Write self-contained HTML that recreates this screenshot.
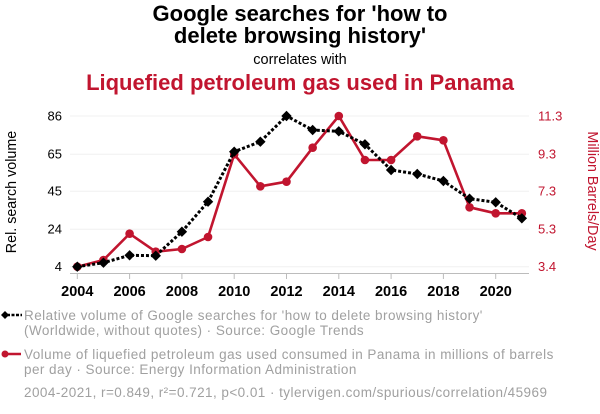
<!DOCTYPE html>
<html>
<head>
<meta charset="utf-8">
<style>
  html,body{margin:0;padding:0;background:#fff;}
  svg{display:block;}
  text{font-family:"Liberation Sans",Arial,sans-serif;}
</style>
</head>
<body>
<svg width="600" height="414" viewBox="0 0 600 414" xmlns="http://www.w3.org/2000/svg">
  <!-- Titles -->
  <text x="300" y="21" text-anchor="middle" font-size="22" font-weight="bold" fill="#000">Google searches for 'how to</text>
  <text x="300" y="43" text-anchor="middle" font-size="22" font-weight="bold" fill="#000">delete browsing history'</text>
  <text x="300" y="64" text-anchor="middle" font-size="14.5" fill="#000">correlates with</text>
  <text x="300" y="90" text-anchor="middle" font-size="22" font-weight="bold" fill="#c1152f">Liquefied petroleum gas used in Panama</text>

  <!-- Gridlines -->
  <g stroke="#f0f0f0" stroke-width="1">
    <line x1="70" y1="116" x2="529" y2="116"/>
    <line x1="70" y1="154.2" x2="529" y2="154.2"/>
    <line x1="70" y1="191.2" x2="529" y2="191.2"/>
    <line x1="70" y1="229.2" x2="529" y2="229.2"/>
    <line x1="70" y1="266.7" x2="529" y2="266.7"/>
  </g>

  <!-- X axis -->
  <line x1="70" y1="273.5" x2="529" y2="273.5" stroke="#bcbcbc" stroke-width="1"/>
  <g stroke="#bcbcbc" stroke-width="1">
    <line x1="77.3" y1="273.5" x2="77.3" y2="279"/>
    <line x1="129.6" y1="273.5" x2="129.6" y2="279"/>
    <line x1="181.9" y1="273.5" x2="181.9" y2="279"/>
    <line x1="234.2" y1="273.5" x2="234.2" y2="279"/>
    <line x1="286.5" y1="273.5" x2="286.5" y2="279"/>
    <line x1="338.8" y1="273.5" x2="338.8" y2="279"/>
    <line x1="391.1" y1="273.5" x2="391.1" y2="279"/>
    <line x1="443.4" y1="273.5" x2="443.4" y2="279"/>
    <line x1="495.7" y1="273.5" x2="495.7" y2="279"/>
  </g>
  <g font-size="14.5" font-weight="bold" fill="#000" text-anchor="middle">
    <text x="77.3" y="296">2004</text>
    <text x="129.6" y="296">2006</text>
    <text x="181.9" y="296">2008</text>
    <text x="234.2" y="296">2010</text>
    <text x="286.5" y="296">2012</text>
    <text x="338.8" y="296">2014</text>
    <text x="391.1" y="296">2016</text>
    <text x="443.4" y="296">2018</text>
    <text x="495.7" y="296">2020</text>
  </g>

  <!-- Left axis labels -->
  <g font-size="13" fill="#000" text-anchor="end">
    <text x="62" y="120.5">86</text>
    <text x="62" y="158.7">65</text>
    <text x="62" y="195.7">45</text>
    <text x="62" y="233.7">24</text>
    <text x="62" y="271.2">4</text>
  </g>
  <text transform="translate(16,192) rotate(-90)" text-anchor="middle" font-size="14.3" fill="#000">Rel. search volume</text>

  <!-- Right axis labels -->
  <g font-size="13" fill="#c1152f" text-anchor="start">
    <text x="538" y="120.5">11.3</text>
    <text x="538" y="158.7">9.3</text>
    <text x="538" y="195.7">7.3</text>
    <text x="538" y="233.7">5.3</text>
    <text x="538" y="271.2">3.4</text>
  </g>
  <text transform="translate(588,191) rotate(90)" text-anchor="middle" font-size="14.3" fill="#c1152f">Million Barrels/Day</text>

  <!-- Red series -->
  <polyline fill="none" stroke="#c1152f" stroke-width="2.6" stroke-linejoin="round"
    points="77.3,266.7 103.45,260 129.6,233.7 155.75,251.7 181.9,249 208.05,237 234.2,154.3 260.35,186.3 286.5,181.7 312.65,147.7 338.8,116 364.95,160 391.1,160 417.25,136.3 443.4,140.3 469.55,207.3 495.7,213.3 521.85,213.3"/>
  <g fill="#c1152f">
    <circle cx="77.3" cy="266.7" r="4.3"/>
    <circle cx="103.45" cy="260" r="4.3"/>
    <circle cx="129.6" cy="233.7" r="4.3"/>
    <circle cx="155.75" cy="251.7" r="4.3"/>
    <circle cx="181.9" cy="249" r="4.3"/>
    <circle cx="208.05" cy="237" r="4.3"/>
    <circle cx="234.2" cy="154.3" r="4.3"/>
    <circle cx="260.35" cy="186.3" r="4.3"/>
    <circle cx="286.5" cy="181.7" r="4.3"/>
    <circle cx="312.65" cy="147.7" r="4.3"/>
    <circle cx="338.8" cy="116" r="4.3"/>
    <circle cx="364.95" cy="160" r="4.3"/>
    <circle cx="391.1" cy="160" r="4.3"/>
    <circle cx="417.25" cy="136.3" r="4.3"/>
    <circle cx="443.4" cy="140.3" r="4.3"/>
    <circle cx="469.55" cy="207.3" r="4.3"/>
    <circle cx="495.7" cy="213.3" r="4.3"/>
    <circle cx="521.85" cy="213.3" r="4.3"/>
  </g>

  <!-- Black series -->
  <polyline fill="none" stroke="#000" stroke-width="3" stroke-dasharray="3 2"
    points="77.3,266.7 103.45,262.7 129.6,255.3 155.75,255.7 181.9,231.7 208.05,201.7 234.2,151.7 260.35,141.7 286.5,116 312.65,130 338.8,131.3 364.95,144.3 391.1,170 417.25,174 443.4,181 469.55,198.7 495.7,202.3 521.85,218.3"/>
  <g fill="#000">
    <path d="M77.3,261.5 l5.2,5.2 l-5.2,5.2 l-5.2,-5.2z"/>
    <path d="M103.45,257.5 l5.2,5.2 l-5.2,5.2 l-5.2,-5.2z"/>
    <path d="M129.6,250.1 l5.2,5.2 l-5.2,5.2 l-5.2,-5.2z"/>
    <path d="M155.75,250.5 l5.2,5.2 l-5.2,5.2 l-5.2,-5.2z"/>
    <path d="M181.9,226.5 l5.2,5.2 l-5.2,5.2 l-5.2,-5.2z"/>
    <path d="M208.05,196.5 l5.2,5.2 l-5.2,5.2 l-5.2,-5.2z"/>
    <path d="M234.2,146.5 l5.2,5.2 l-5.2,5.2 l-5.2,-5.2z"/>
    <path d="M260.35,136.5 l5.2,5.2 l-5.2,5.2 l-5.2,-5.2z"/>
    <path d="M286.5,110.8 l5.2,5.2 l-5.2,5.2 l-5.2,-5.2z"/>
    <path d="M312.65,124.8 l5.2,5.2 l-5.2,5.2 l-5.2,-5.2z"/>
    <path d="M338.8,126.1 l5.2,5.2 l-5.2,5.2 l-5.2,-5.2z"/>
    <path d="M364.95,139.1 l5.2,5.2 l-5.2,5.2 l-5.2,-5.2z"/>
    <path d="M391.1,164.8 l5.2,5.2 l-5.2,5.2 l-5.2,-5.2z"/>
    <path d="M417.25,168.8 l5.2,5.2 l-5.2,5.2 l-5.2,-5.2z"/>
    <path d="M443.4,175.8 l5.2,5.2 l-5.2,5.2 l-5.2,-5.2z"/>
    <path d="M469.55,193.5 l5.2,5.2 l-5.2,5.2 l-5.2,-5.2z"/>
    <path d="M495.7,197.1 l5.2,5.2 l-5.2,5.2 l-5.2,-5.2z"/>
    <path d="M521.85,213.1 l5.2,5.2 l-5.2,5.2 l-5.2,-5.2z"/>
  </g>

  <!-- Legend -->
  <line x1="7" y1="315" x2="22" y2="315" stroke="#000" stroke-width="2.5" stroke-dasharray="3 1.5"/>
  <path d="M5,311 l4,4 l-4,4 l-4,-4z" fill="#000"/>
  <line x1="5" y1="354" x2="21" y2="354" stroke="#c1152f" stroke-width="2.5"/>
  <circle cx="5" cy="354" r="3.5" fill="#c1152f"/>

  <g font-size="13.5" fill="#a0a0a0" letter-spacing="0.45">
    <text x="24" y="320">Relative volume of Google searches for 'how to delete browsing history'</text>
    <text x="24" y="335">(Worldwide, without quotes) · Source: Google Trends</text>
    <text x="24" y="359">Volume of liquefied petroleum gas used consumed in Panama in millions of barrels</text>
    <text x="24" y="374">per day · Source: Energy Information Administration</text>
    <text x="24" y="397">2004-2021, r=0.849, r²=0.721, p&lt;0.01 · tylervigen.com/spurious/correlation/45969</text>
  </g>
</svg>
</body>
</html>
